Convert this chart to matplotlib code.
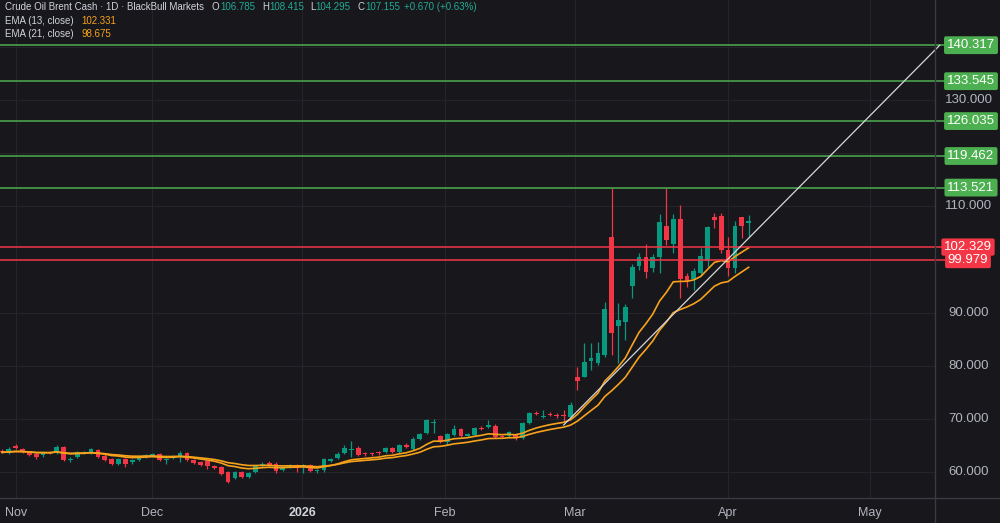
import matplotlib
matplotlib.use("Agg")
import matplotlib.pyplot as plt
import pandas as pd
from matplotlib.lines import Line2D
from matplotlib.transforms import blended_transform_factory

# daily candles (Nov 2025 -> Apr 2026)
opens = [64.0, 63.6, 64.9, 64.4, 63.9, 63.4, 63.2, 63.8, 63.5, 64.7,
         62.3, 62.8, 63.6, 63.5, 64.1, 63.1, 62.4, 61.6, 62.4, 61.8,
         62.3, 62.9, 63.1, 63.3, 62.3, 62.7, 63.1, 63.6, 62.3, 61.9,
         62.0, 61.2, 60.9, 60.0, 58.8, 60.0, 59.1, 60.0, 61.2, 61.7,
         61.6, 60.4, 61.0, 61.3, 61.0, 61.4, 60.1, 60.3, 62.0, 62.6,
         63.6, 64.2, 64.6, 63.5, 63.6, 63.8, 63.7, 64.5, 63.8, 65.0,
         64.4, 66.3, 67.3, 69.2, 66.8, 65.7, 67.0, 68.0, 66.8, 66.9,
         68.3, 68.5, 68.6, 66.8, 66.8, 67.2, 66.4, 69.3, 71.1, 70.4,
         70.9, 70.8, 70.8, 70.4, 77.9, 77.9, 80.9, 80.5, 82.0, 104.2,
         87.5, 88.2, 95.0, 98.8, 100.5, 98.4, 100.5, 106.3, 102.9, 107.6,
         96.9, 96.3, 97.5, 99.7, 108.0, 108.2, 101.8, 98.4, 108.0, 106.785]
highs = [64.3, 64.8, 65.2, 64.5, 64.0, 63.6, 63.8, 64.0, 65.1, 64.9,
         62.9, 64.0, 64.0, 64.6, 64.3, 63.3, 62.6, 62.6, 62.6, 62.4,
         63.1, 63.4, 63.6, 63.5, 62.7, 63.2, 64.0, 63.8, 62.5, 62.1,
         62.2, 61.4, 61.1, 60.2, 60.2, 60.2, 60.0, 61.4, 61.8, 62.0,
         61.8, 61.2, 61.5, 61.5, 61.6, 61.6, 60.6, 62.6, 62.7, 63.8,
         65.0, 65.9, 64.9, 63.7, 63.8, 64.0, 64.8, 64.7, 65.3, 65.4,
         66.5, 67.3, 70.0, 69.9, 67.0, 67.3, 68.8, 68.2, 67.4, 68.5,
         68.6, 69.7, 69.0, 67.0, 67.7, 67.4, 69.4, 71.3, 71.5, 71.6,
         71.2, 71.1, 71.6, 73.2, 79.7, 84.3, 84.2, 84.5, 91.9, 113.4,
         91.8, 91.6, 99.1, 101.2, 102.9, 101.0, 108.6, 113.4, 108.5, 110.2,
         97.4, 98.3, 102.1, 106.3, 108.7, 108.7, 104.3, 107.3, 108.0, 108.415]
lows = [63.6, 63.4, 64.3, 63.5, 63.0, 62.4, 62.9, 63.3, 63.3, 62.1,
        61.9, 62.6, 63.4, 63.3, 62.7, 62.1, 61.4, 61.4, 60.9, 61.6,
        62.1, 62.7, 62.9, 62.0, 61.5, 62.5, 61.9, 62.0, 61.5, 61.1,
        60.5, 60.5, 59.5, 58.0, 58.6, 58.9, 58.9, 59.8, 61.0, 61.2,
        59.9, 60.2, 60.8, 60.0, 59.8, 60.0, 59.9, 60.0, 61.8, 62.4,
        63.3, 62.9, 63.0, 63.0, 63.1, 63.2, 63.5, 63.5, 63.6, 64.6,
        64.2, 66.1, 67.1, 67.3, 65.5, 65.1, 66.8, 66.6, 66.6, 66.7,
        67.9, 68.2, 66.4, 66.5, 66.6, 66.0, 66.2, 69.1, 70.7, 70.2,
        70.5, 70.2, 69.4, 70.2, 75.4, 77.9, 79.2, 80.1, 81.7, 82.0,
        80.5, 84.8, 92.7, 98.0, 96.6, 97.6, 97.4, 102.7, 101.2, 92.7,
        94.9, 94.2, 96.8, 98.6, 105.9, 101.2, 96.9, 97.4, 104.0, 104.295]
closes = [63.7, 64.3, 64.6, 63.7, 63.2, 62.8, 63.6, 63.5, 64.8, 62.3,
          62.5, 63.8, 63.8, 64.3, 62.9, 62.3, 61.6, 62.4, 61.6, 62.2,
          62.9, 63.2, 63.4, 62.2, 62.5, 63.0, 63.5, 62.2, 61.7, 61.3,
          61.1, 60.7, 59.7, 58.2, 60.0, 59.1, 59.8, 61.2, 61.5, 61.4,
          60.2, 61.0, 61.3, 61.0, 61.3, 60.1, 60.3, 62.4, 62.5, 63.4,
          64.5, 64.4, 63.2, 63.3, 63.4, 63.5, 64.6, 63.7, 65.1, 64.8,
          66.3, 67.1, 69.8, 69.4, 65.7, 67.1, 68.0, 66.8, 67.2, 68.2,
          68.1, 68.8, 66.6, 66.6, 67.5, 66.4, 69.2, 71.1, 70.9, 70.6,
          70.7, 70.5, 70.6, 72.6, 77.1, 80.7, 81.5, 82.4, 90.7, 86.2,
          88.6, 91.1, 98.6, 100.5, 97.7, 100.5, 107.0, 103.7, 107.6, 96.3,
          96.0, 97.8, 100.6, 106.1, 107.4, 101.8, 98.4, 106.3, 106.3, 107.155]

# month labels on the bar index axis
month_pos = [2.0, 21.9, 43.8, 64.7, 83.6, 106.0, 126.7]
month_labels = ["Nov", "Dec", "2026", "Feb", "Mar", "Apr", "May"]

# drawn levels and trend line
green_levels = [140.317, 133.545, 126.035, 119.462, 113.521]
red_levels = [102.329, 99.979]
trend_x = [82, 136.9]
trend_y = [68.85, 140.317]
price_ticks = [60, 70, 80, 90, 110, 130]

bg = "#17171c"
up_col = "#089981"
down_col = "#f23645"
ema_col = "#f7a21b"
grid_col = "#24242a"
sep_col = "#3a3a41"
txt_col = "#b2b5be"

plt.rcParams["font.family"] = ["Liberation Sans", "DejaVu Sans"]

fig = plt.figure(figsize=(10, 5.23), dpi=100, facecolor=bg)
ax = fig.add_axes([0, 25 / 523, 0.935, 498 / 523])
ax.set_facecolor(bg)

x = list(range(len(closes)))
colors = [up_col if c >= o else down_col for o, c in zip(opens, closes)]
bottoms = [min(o, c) for o, c in zip(opens, closes)]
heights = [max(abs(c - o), 0.18) for o, c in zip(opens, closes)]

# EMA lines
close_s = pd.Series(closes)
ema13 = close_s.ewm(span=13, adjust=False).mean()
ema21 = close_s.ewm(span=21, adjust=False).mean()

# grid
for v in range(60, 150, 10):
    ax.axhline(v, color=grid_col, lw=0.8, zorder=0)
for p in month_pos:
    ax.axvline(p, color=grid_col, lw=0.8, zorder=0)

# candles
ax.vlines(x, lows, highs, colors=colors, lw=0.9, zorder=2)
ax.bar(x, heights, bottom=bottoms, width=0.7, color=colors, zorder=3)

ax.plot(x, ema13, color=ema_col, lw=1.2, zorder=4)
ax.plot(x, ema21, color=ema_col, lw=1.2, zorder=4)

# horizontal levels
for lv in green_levels:
    ax.axhline(lv, xmin=0, xmax=945 / 935, color="#4caf50", lw=1.1, zorder=5, clip_on=False)
for lv in red_levels:
    ax.axhline(lv, xmin=0, xmax=945 / 935, color=down_col, lw=1.1, zorder=5, clip_on=False)

ax.plot(trend_x, trend_y, color="#d8d8d8", lw=0.9, zorder=6, clip_on=False)

ax.set_xlim(-2 / 6.85, 933 / 6.85)
ax.set_ylim(55.11, 148.82)
ax.set_xticks([])
ax.set_yticks([])
for s in ax.spines.values():
    s.set_visible(False)

# price axis labels
tr = blended_transform_factory(ax.transAxes, ax.transData)
for t in price_ticks:
    ax.text(969 / 935, t, f"{t:.3f}", transform=tr, ha="center", va="center",
            color=txt_col, fontsize=9.5, clip_on=False)
for lv in green_levels:
    ax.text(971 / 935, lv, f"{lv:.3f}", transform=tr, ha="center", va="center",
            color="white", fontsize=9.5, clip_on=False, zorder=10,
            bbox=dict(boxstyle="round,pad=0.22,rounding_size=0.15", fc="#4caf50", ec="none"))
for lv in red_levels:
    ax.text(968 / 935, lv, f"{lv:.3f}", transform=tr, ha="center", va="center",
            color="white", fontsize=9.5, clip_on=False, zorder=10,
            bbox=dict(boxstyle="round,pad=0.2,rounding_size=0.15", fc=down_col, ec="none"))

# date labels
trx = blended_transform_factory(ax.transData, fig.transFigure)
for p, lab in zip(month_pos, month_labels):
    if lab == "2026":
        ax.text(p, 1 - 513 / 523, lab, transform=trx, ha="center", va="center",
                color="#d1d4dc", fontsize=9, fontweight="bold")
    else:
        ax.text(p, 1 - 513 / 523, lab, transform=trx, ha="center", va="center",
                color=txt_col, fontsize=9)

# separators
fig.add_artist(Line2D([0, 1], [1 - 498 / 523] * 2, color=sep_col, lw=1))
fig.add_artist(Line2D([935 / 1000] * 2, [0, 1], color=sep_col, lw=1))

# header
def htext(px, py, s, c):
    fig.text(px / 1000, 1 - py / 523, s, color=c, fontsize=7.0, ha="left", va="center")

lab_col = "#d1d4dc"
val_col = "#22ab94"
htext(5, 7.5, "Crude Oil Brent Cash · 1D · BlackBull Markets", lab_col)
htext(212, 7.5, "O", lab_col)
htext(220, 7.5, "106.785", val_col)
htext(262, 7.5, "H", lab_col)
htext(269, 7.5, "108.415", val_col)
htext(310, 7.5, "L", lab_col)
htext(315, 7.5, "104.295", val_col)
htext(357, 7.5, "C", lab_col)
htext(365, 7.5, "107.155", val_col)
htext(404, 7.5, "+0.670 (+0.63%)", val_col)
htext(5, 21, "EMA (13, close)", lab_col)
htext(81, 21, "102.331", ema_col)
htext(5, 34, "EMA (21, close)", lab_col)
htext(81, 34, "98.675", ema_col)

plt.savefig("out.png", dpi=100, facecolor=bg)
